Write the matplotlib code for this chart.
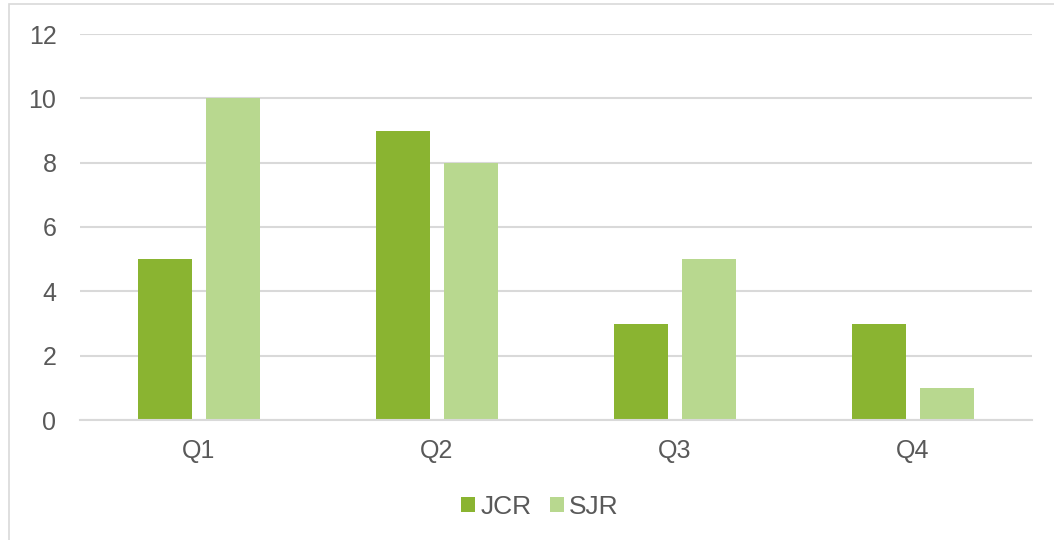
import matplotlib
matplotlib.use("Agg")
import matplotlib.pyplot as plt
from matplotlib.patches import Rectangle
import numpy as np

categories = ["Q1", "Q2", "Q3", "Q4"]
jcr = [5, 9, 3, 3]
sjr = [10, 8, 5, 1]
yticks = [0, 2, 4, 6, 8, 10, 12]

plt.rcParams['font.family'] = ['Liberation Sans', 'DejaVu Sans']
txt = '#595959'
grid = '#D9D9D9'

fig = plt.figure(figsize=(10.54, 5.4), dpi=100)
fig.patches.append(Rectangle((9/1054, -0.1), 1.2, (540-4)/540 + 0.1, transform=fig.transFigure,
                             fill=False, edgecolor='#D9D9D9', linewidth=1.2))
ax = fig.add_axes([80/1054, 120/540, 952/1054, 386/540])

x = np.arange(len(categories))
w = 0.223
off = 0.143
ax.bar(x - off, jcr, w, color='#8AB431', label='JCR', zorder=3)
ax.bar(x + off, sjr, w, color='#B8D88F', label='SJR', zorder=3)

ax.set_xlim(-0.5, 3.5)
ax.set_ylim(0, 12)
ax.set_yticks(yticks)
ax.set_xticks(x)
ax.set_xticklabels(categories)
for s in ['top', 'right', 'left']:
    ax.spines[s].set_visible(False)
ax.spines['bottom'].set_color(grid)
ax.spines['bottom'].set_linewidth(1.5)
ax.spines['bottom'].set_zorder(4)
ax.yaxis.grid(True, color=grid, linewidth=1.5, zorder=0)
ax.set_axisbelow(True)
ax.tick_params(axis='both', length=0, labelsize=18, colors=txt)
ax.tick_params(axis='y', pad=17)
ax.tick_params(axis='x', pad=13.5)

leg = fig.legend(loc='center', bbox_to_anchor=(540/1054, 1 - 507/540), ncol=2, frameon=False,
                 fontsize=19, handlelength=0.53, handleheight=0.53, handletextpad=0.2,
                 columnspacing=0.7, labelcolor=txt)

fig.savefig('out.png', dpi=100)
